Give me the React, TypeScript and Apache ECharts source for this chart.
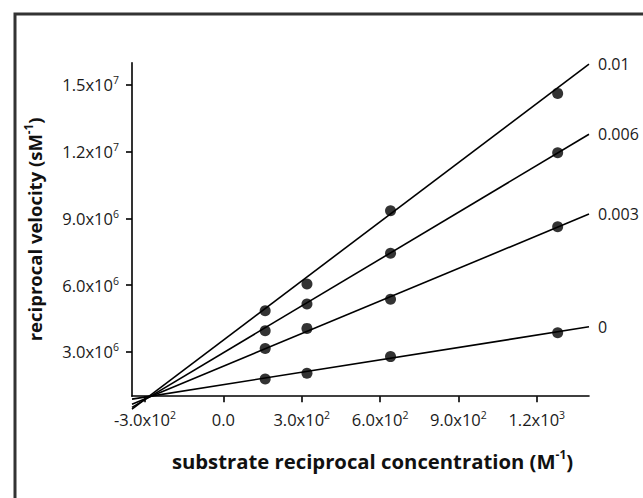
import React, { useEffect, useRef } from "react";
import * as echarts from "echarts";

// ---- data ----
const substrateRecip = [160, 320, 640, 1280];
const inhibitorNames = ["0", "0.003", "0.006", "0.01"];
const velocity0 = [1.77e6, 2.03e6, 2.78e6, 3.85e6];
const velocity003 = [3.15e6, 4.05e6, 5.36e6, 8.62e6];
const velocity006 = [3.94e6, 5.15e6, 7.43e6, 11.95e6];
const velocity01 = [4.84e6, 6.05e6, 9.34e6, 14.62e6];

const fitX = [-350, 1400];
const fit0 = [0.87e6, 4.12e6];
const fit003 = [0.64e6, 9.19e6];
const fit006 = [0.5e6, 12.78e6];
const fit01 = [0.42e6, 15.94e6];

const xTickValues = [-300, 0, 300, 600, 900, 1200];
const xTickMantissa = ["-3.0x10", "0.0", "3.0x10", "6.0x10", "9.0x10", "1.2x10"];
const xTickExp = ["2", "", "2", "2", "2", "3"];
const yTickValues = [3e6, 6e6, 9e6, 1.2e7, 1.5e7];
const yTickMantissa = ["3.0x10", "6.0x10", "9.0x10", "1.2x10", "1.5x10"];
const yTickExp = ["6", "6", "6", "7", "7"];

const FONT = "Open Sans";
const TXT = "#1a1a1a";

const tickRich = {
  b: { fontSize: 16.5, fontFamily: FONT, color: TXT, lineHeight: 20 },
  s: { fontSize: 10.5, fontFamily: FONT, color: TXT, verticalAlign: "top" as const, lineHeight: 13 },
};

const xTitleRich = {
  t: { fontSize: 20.3, fontFamily: FONT, fontWeight: "bold" as const, color: "#111", lineHeight: 26 },
  s: { fontSize: 12, fontFamily: FONT, fontWeight: "bold" as const, color: "#111", verticalAlign: "top" as const, lineHeight: 15 },
};
const yTitleRich = {
  t: { fontSize: 18.5, fontFamily: FONT, fontWeight: "bold" as const, color: "#111", lineHeight: 25 },
  s: { fontSize: 11.5, fontFamily: FONT, fontWeight: "bold" as const, color: "#111", verticalAlign: "top" as const, lineHeight: 15 },
};

function tickLabel(values: number[], mant: string[], exp: string[]) {
  return (v: number) => {
    const i = values.findIndex((x) => Math.abs(x - v) < 1e-6 * Math.max(1, Math.abs(x)));
    if (i < 0) return "";
    return exp[i] ? `{b|${mant[i]}}{s|${exp[i]}}` : `{b|${mant[i]}}`;
  };
}

export default function App() {
  const ref = useRef<HTMLDivElement>(null);
  useEffect(() => {
    if (!ref.current) return;
    const chart = echarts.init(ref.current, null, { renderer: "svg" });
    const series: any[] = [];
    const pts = [velocity0, velocity003, velocity006, velocity01];
    const fits = [fit0, fit003, fit006, fit01];
    inhibitorNames.forEach((name, k) => {
      series.push({
        name,
        type: "line",
        data: fitX.map((x, i) => [x, fits[k][i]]),
        symbol: "none",
        clip: false,
        lineStyle: { color: "#000", width: 1.6 },
        endLabel: {
          show: true,
          formatter: "{a}",
          distance: 9,
          fontFamily: FONT,
          fontSize: 16,
          color: TXT,
        },
        z: 2,
      });
      series.push({
        name: name + " data",
        type: "scatter",
        data: substrateRecip.map((x, i) => [x, pts[k][i]]),
        symbol: "circle",
        symbolSize: 11,
        itemStyle: { color: "#000" },
        z: 3,
      });
    });
    chart.setOption({
      animation: false,
      backgroundColor: "#fff",
      grid: { left: 132, right: 54, top: 62.7, bottom: 101.8 },
      graphic: [
        {
          type: "rect",
          shape: { x: 15, y: 14, width: 720, height: 620 },
          style: { fill: "none", stroke: "#333", lineWidth: 3 },
          silent: true,
        },
      ],
      xAxis: {
        type: "value",
        min: -350,
        max: 1400,
        splitLine: { show: false },
        axisLine: { onZero: false, lineStyle: { color: "#000", width: 1.6 } },
        axisTick: { customValues: xTickValues, length: 6, lineStyle: { color: "#000", width: 1.6 } },
        axisLabel: {
          customValues: xTickValues,
          margin: 13,
          formatter: tickLabel(xTickValues, xTickMantissa, xTickExp),
          rich: tickRich,
        },
        name: "{t|substrate reciprocal concentration (M}{s|-1}{t|)}",
        nameLocation: "middle",
        nameGap: 52,
        nameTextStyle: { rich: xTitleRich, padding: [0, 0, 0, 24] },
      },
      yAxis: {
        type: "value",
        min: 1e6,
        max: 1.6e7,
        splitLine: { show: false },
        axisLine: { onZero: false, lineStyle: { color: "#000", width: 1.6 } },
        axisTick: { customValues: yTickValues, length: 6, lineStyle: { color: "#000", width: 1.6 } },
        axisLabel: {
          customValues: yTickValues,
          margin: 13,
          formatter: tickLabel(yTickValues, yTickMantissa, yTickExp),
          rich: tickRich,
        },
        name: "{t|reciprocal velocity (sM}{s|-1}{t|)}",
        nameLocation: "middle",
        nameGap: 85,
        nameRotate: 90,
        nameTextStyle: { rich: yTitleRich },
      },
      series,
    });
    return () => chart.dispose();
  }, []);
  return (
    <div
      ref={ref}
      style={{ position: "fixed", left: 0, top: 0, width: 643, height: 498 }}
    />
  );
}
